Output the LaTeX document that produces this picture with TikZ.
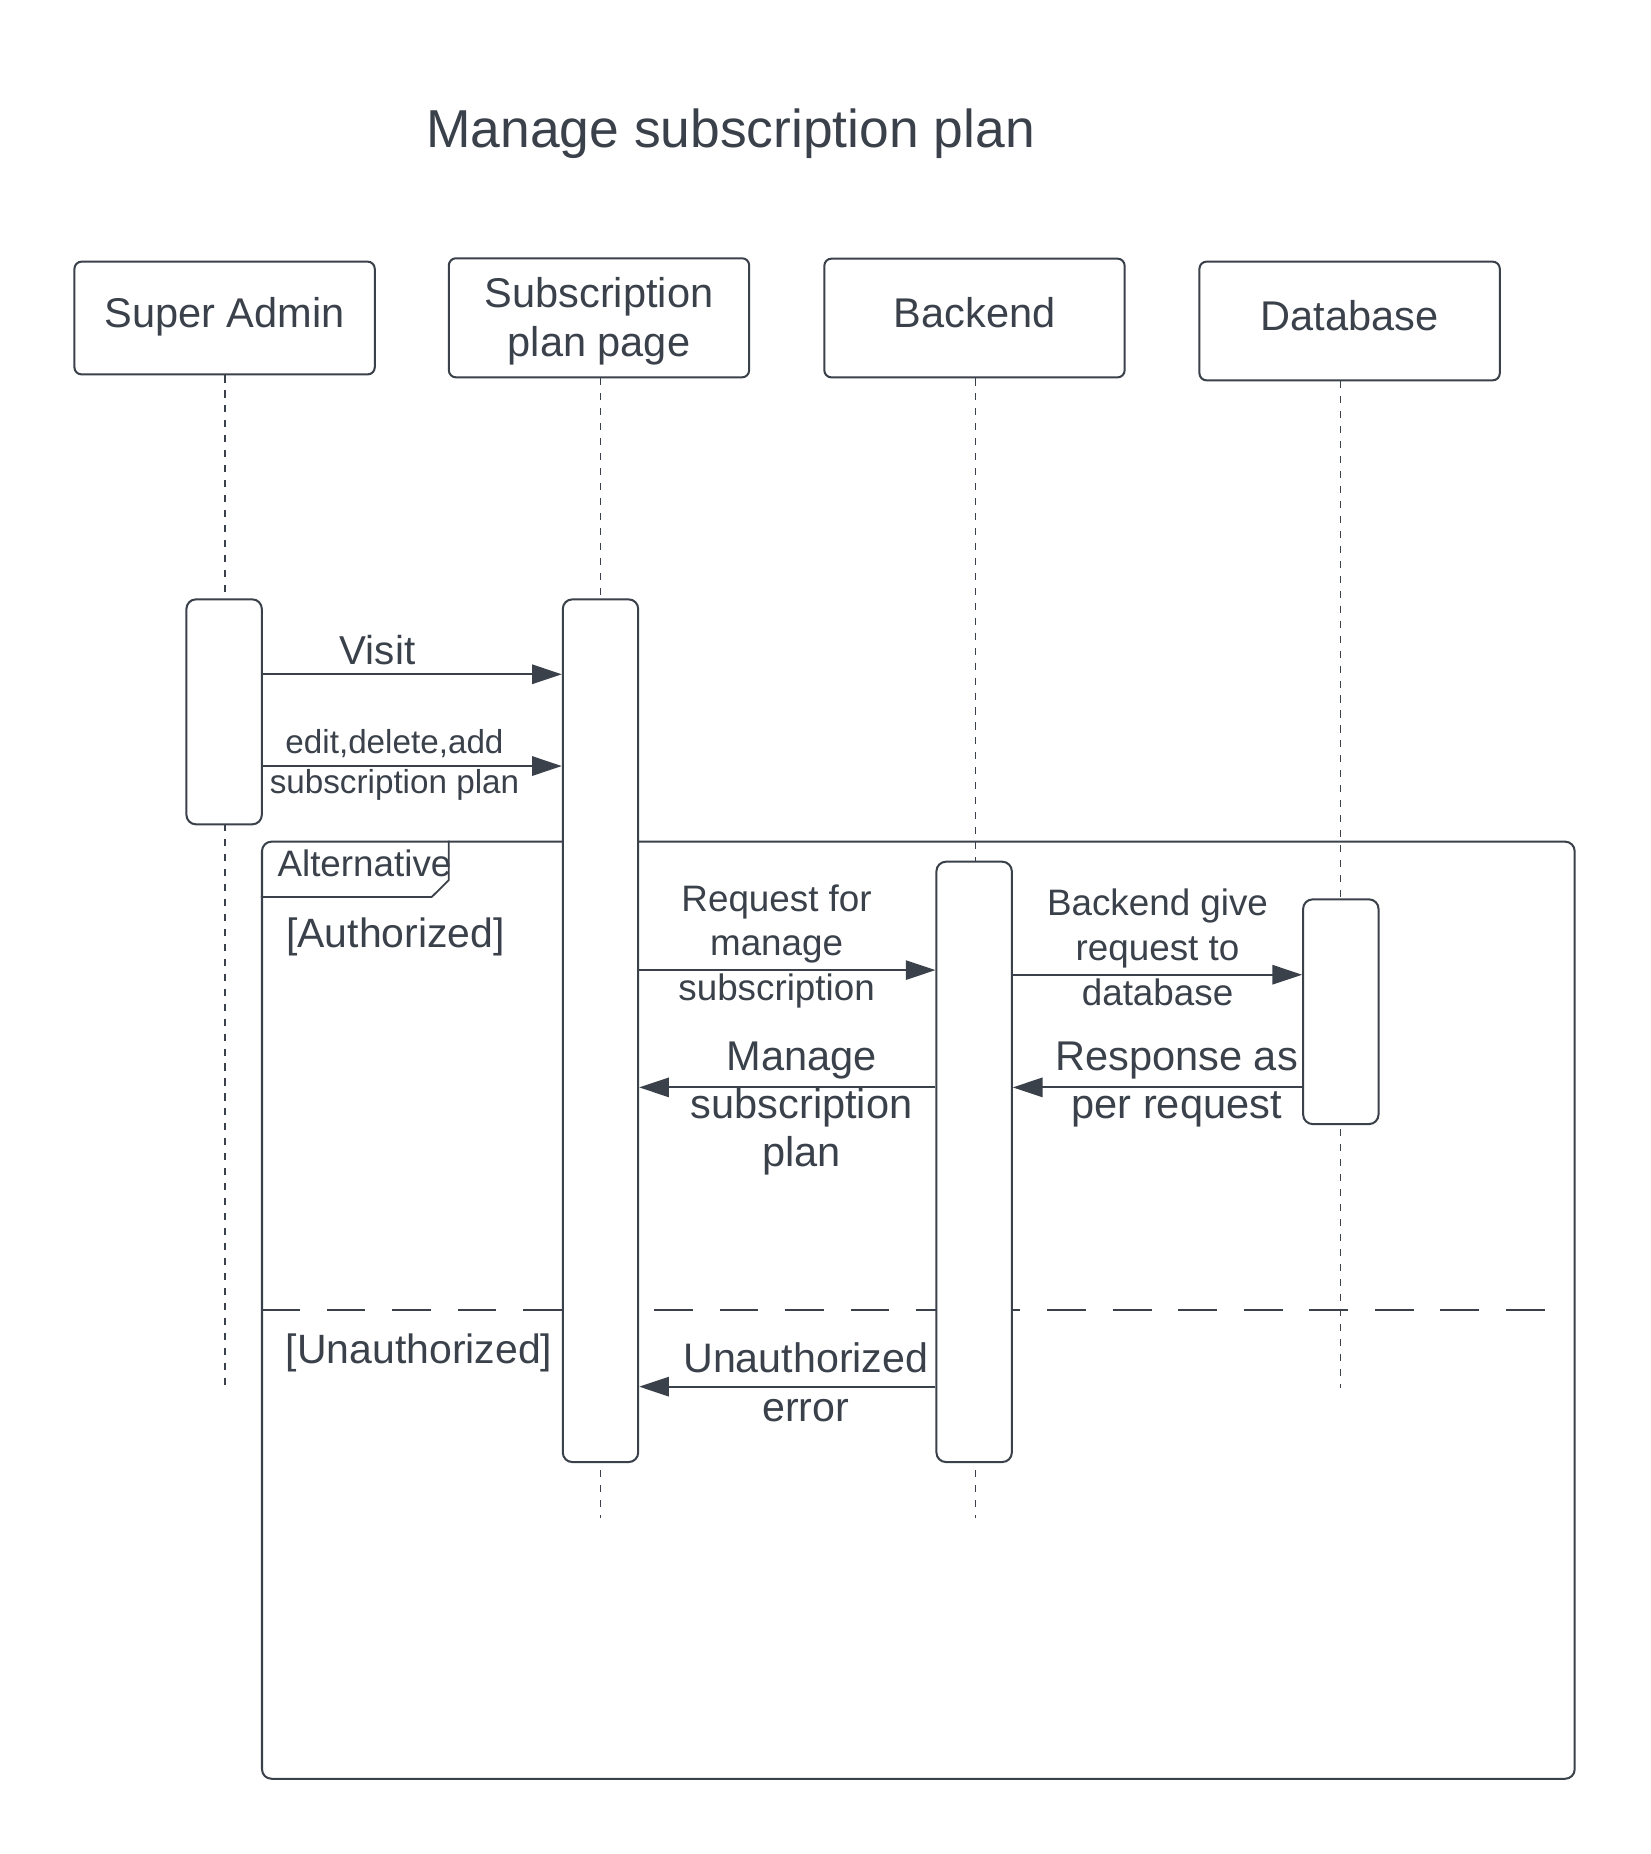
\documentclass[tikz,border=0pt]{standalone}
\usepackage{fontspec}
\setmainfont{Liberation Sans}
\usetikzlibrary{arrows.meta}
\definecolor{ink}{HTML}{3A414A}
\newcommand\mlstack[1]{\vtop{\halign{\hfil##\hfil\cr #1\crcr}}}
\begin{document}
\begin{tikzpicture}[x=1pt,y=-1pt,
  actor/.style={draw=ink, line width=1.7pt, rounded corners=6pt, minimum width=253pt, inner sep=0pt, text=ink, font=\fontsize{35}{41.6}\selectfont, text height=25pt, text depth=9.6pt},
  act/.style={draw=ink, fill=white, line width=1.7pt, rounded corners=8pt, inner sep=0pt, minimum width=63.5pt},
  lifeline/.style={draw=ink, line width=1pt, dash pattern=on 6pt off 6.6pt},
  msg/.style={draw=ink, line width=1.6pt, -{Triangle[length=25pt,width=16.3pt]}},
  lbl/.style={text=ink, inner sep=0pt, anchor=base},
  lblbig/.style={font=\fontsize{35}{41}\selectfont},
  lblmid/.style={font=\fontsize{31}{38}\selectfont},
  lblsmall/.style={font=\fontsize{28}{33.7}\selectfont},
]
\useasboundingbox (0,0) rectangle (1390,1561.8);
% title
\node[lbl, font=\fontsize{45}{54}\selectfont] (title) at (615.5,124) {Manage subscription plan};
% actors
\node[actor, minimum height=95pt] (sa) at (189.2,267.9) {Super Admin};
\node[actor, minimum height=100.3pt, text depth=42.6pt] (sub) at (504.6,267.7) {\mlstack{Subscription\cr plan page}};
\node[actor, minimum height=100pt] (be) at (820.9,267.9) {Backend};
\node[actor, minimum height=100pt] (db) at (1136.9,270.4) {Database};
% alternative frame
\node[draw=ink, line width=1.7pt, rounded corners=8pt, minimum width=1105.8pt, minimum height=789.4pt, inner sep=0pt] (alt) at (773.6,1103.7) {};
\draw[ink, line width=1.5pt] (alt.north west -| 378,0) -- (378,741.4) -- (363.7,755.6) -- (alt.west |- 0,755.6);
\node[lbl, anchor=base west, font=\fontsize{31}{37}\selectfont] (altlbl) at (233.6,738.5) {Alternative};
\node[lbl, anchor=base west, font=\fontsize{34.5}{41}\selectfont] (g1) at (240.9,797.8) {[Authorized]};
\node[lbl, anchor=base west, font=\fontsize{34.5}{41}\selectfont] (g2) at (240.7,1148.5) {[Unauthorized]};
\coordinate (sepR) at (1303.7,1103.6);
\draw[ink, line width=2pt, dash pattern=on 32.6pt off 22.6pt] (alt.west |- sepR) -- (sepR);
% lifelines
\coordinate (saEnd) at (189.5,1169);
\coordinate (subEnd) at (505.7,1278.5);
\coordinate (beEnd) at (821.6,1278.5);
\coordinate (dbEnd) at (1129.5,1169);
\draw[lifeline] (sa.south -| saEnd) -- (saEnd);
\draw[lifeline] (sub.south -| subEnd) -- (subEnd);
\draw[lifeline] (be.south -| beEnd) -- (beEnd);
\draw[lifeline] (db.south -| dbEnd) -- (dbEnd);
% activations
\node[act, minimum height=189.5pt] (saA) at (188.8,599.65) {};
\node[act, minimum height=726.7pt] (subA) at (505.85,868.25) {};
\node[act, minimum height=505.7pt] (beA) at (820.6,978.75) {};
\node[act, minimum height=189.3pt] (dbA) at (1129.5,852.25) {};
% messages
\draw[msg] (saA.east |- 0,568) -- (subA.west |- 0,568);
\node[lbl, font=\fontsize{34}{40}\selectfont] (mVisit) at (318,560) {Visit};
\draw[msg] (saA.east |- 0,645.3) -- (subA.west |- 0,645.3);
\node[lbl, lblsmall] (mEdit) at (332.3,634.6) {\mlstack{edit,delete,add\cr subscription plan}};
\draw[msg] (subA.east |- 0,817.2) -- (beA.west |- 0,817.2);
\node[lbl, font=\fontsize{31}{37.5}\selectfont] (mReq) at (654.2,767.5) {\mlstack{Request for\cr manage\cr subscription}};
\draw[msg] (beA.east |- 0,821.1) -- (dbA.west |- 0,821.1);
\node[lbl, lblmid] (mGive) at (975.1,770.8) {\mlstack{Backend give\cr request to\cr database}};
\draw[msg] (dbA.west |- 0,916) -- (beA.east |- 0,916);
\node[lbl, font=\fontsize{35}{40}\selectfont] (mResp) at (991.2,902) {\mlstack{Response as\cr per request}};
\draw[msg] (beA.west |- 0,916) -- (subA.east |- 0,916);
\node[lbl, font=\fontsize{35}{40.7}\selectfont] (mManage) at (675.2,901.4) {\mlstack{Manage\cr subscription\cr plan}};
\draw[msg] (beA.west |- 0,1168.1) -- (subA.east |- 0,1168.1);
\node[lbl, font=\fontsize{34.7}{41.5}\selectfont] (mUnauth) at (678.8,1156.1) {\mlstack{Unauthorized\cr error}};
\end{tikzpicture}
\end{document}
